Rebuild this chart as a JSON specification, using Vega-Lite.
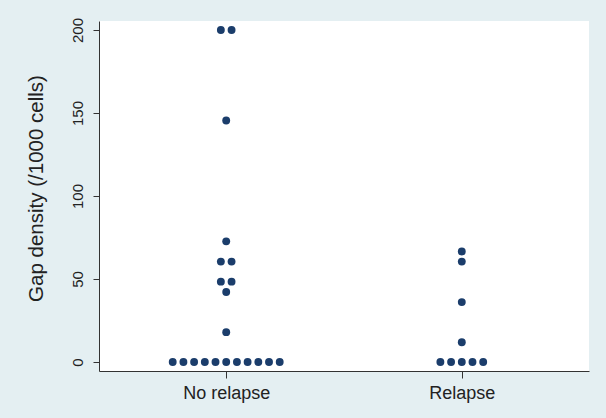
{
  "$schema": "https://vega.github.io/schema/vega-lite/v6.json",
  "width": 490,
  "height": 350,
  "autosize": {"type": "none"},
  "padding": {"left": 99, "top": 21, "right": 17, "bottom": 47},
  "background": "#e4eff2",
  "config": {"view": {"fill": "white", "stroke": null}, "font": "Liberation Sans"},
  "data": {
    "values": [
      {"group": "No relapse", "density": 200, "slot": -0.5},
      {"group": "No relapse", "density": 200, "slot": 0.5},
      {"group": "No relapse", "density": 145.5, "slot": 0},
      {"group": "No relapse", "density": 72.7, "slot": 0},
      {"group": "No relapse", "density": 60.5, "slot": -0.5},
      {"group": "No relapse", "density": 60.5, "slot": 0.5},
      {"group": "No relapse", "density": 48.4, "slot": -0.5},
      {"group": "No relapse", "density": 48.4, "slot": 0.5},
      {"group": "No relapse", "density": 42.2, "slot": 0},
      {"group": "No relapse", "density": 18, "slot": 0},
      {"group": "No relapse", "density": 0, "slot": -5},
      {"group": "No relapse", "density": 0, "slot": -4},
      {"group": "No relapse", "density": 0, "slot": -3},
      {"group": "No relapse", "density": 0, "slot": -2},
      {"group": "No relapse", "density": 0, "slot": -1},
      {"group": "No relapse", "density": 0, "slot": 0},
      {"group": "No relapse", "density": 0, "slot": 1},
      {"group": "No relapse", "density": 0, "slot": 2},
      {"group": "No relapse", "density": 0, "slot": 3},
      {"group": "No relapse", "density": 0, "slot": 4},
      {"group": "No relapse", "density": 0, "slot": 5},
      {"group": "Relapse", "density": 66.6, "slot": 0},
      {"group": "Relapse", "density": 60.5, "slot": 0},
      {"group": "Relapse", "density": 36.1, "slot": 0},
      {"group": "Relapse", "density": 11.9, "slot": 0},
      {"group": "Relapse", "density": 0, "slot": -2},
      {"group": "Relapse", "density": 0, "slot": -1},
      {"group": "Relapse", "density": 0, "slot": 0},
      {"group": "Relapse", "density": 0, "slot": 1},
      {"group": "Relapse", "density": 0, "slot": 2}
    ]
  },
  "mark": {"type": "circle", "size": 62, "color": "#1b3d6b", "opacity": 1},
  "encoding": {
    "x": {
      "field": "group",
      "type": "nominal",
      "sort": ["No relapse", "Relapse"],
      "scale": {"type": "point", "padding": 0.54},
      "axis": {
        "title": null,
        "labelAngle": 0,
        "labelFontSize": 18,
        "labelColor": "#222222",
        "tickSize": 7,
        "domainColor": "#333333",
        "tickColor": "#333333",
        "labelPadding": 6,
        "grid": false
      }
    },
    "xOffset": {
      "field": "slot",
      "type": "quantitative",
      "scale": {"domain": [-5, 5], "range": [-53.5, 53.5]}
    },
    "y": {
      "field": "density",
      "type": "quantitative",
      "scale": {"domain": [-5.4, 205.4], "nice": false, "zero": false},
      "axis": {
        "values": [0, 50, 100, 150, 200],
        "title": "Gap density (/1000 cells)",
        "titleFontSize": 20.5,
        "titleFontWeight": "normal",
        "titleColor": "#222222",
        "titlePadding": 24,
        "titleY": 167,
        "labelAngle": -90,
        "labelFontSize": 15,
        "labelColor": "#222222",
        "labelPadding": 8,
        "tickSize": 6,
        "domainColor": "#333333",
        "tickColor": "#333333",
        "grid": false
      }
    }
  }
}
